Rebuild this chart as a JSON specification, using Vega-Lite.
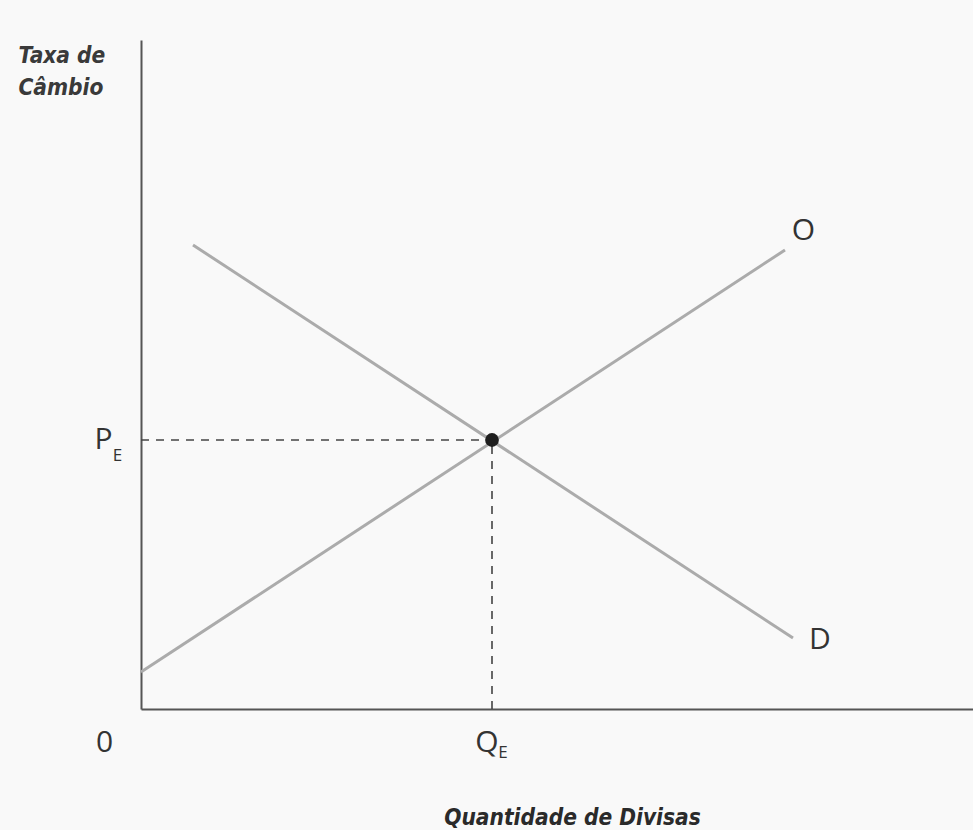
{
  "$schema": "https://vega.github.io/schema/vega-lite/v6.json",
  "width": 832,
  "height": 669,
  "autosize": {"type": "none"},
  "padding": {"left": 141, "top": 40, "right": 0, "bottom": 121},
  "background": "#f9f9f9",
  "config": {"view": {"stroke": null}},
  "layer": [
    {
      "data": {"values": [
        {"q": 0, "p": 37, "curva": "O"},
        {"q": 644, "p": 459, "curva": "O"},
        {"q": 52, "p": 464, "curva": "D"},
        {"q": 652, "p": 71, "curva": "D"}
      ]},
      "mark": {"type": "line", "color": "#ababab", "strokeWidth": 3},
      "encoding": {
        "x": {"field": "q", "type": "quantitative",
          "scale": {"domain": [0, 832], "nice": false, "zero": false},
          "axis": {"title": "Quantidade de Divisas", "grid": false, "ticks": false, "labels": false,
            "domainColor": "#555", "domainWidth": 2,
            "titleFont": "Liberation Sans Narrow, DejaVu Sans Condensed, sans-serif",
            "titleFontSize": 22.5, "titleFontStyle": "italic", "titleFontWeight": "bold",
            "titleColor": "#2a2a2a", "titleX": 431, "titleY": 108, "titleBaseline": "middle", "titleAnchor": "middle"}},
        "y": {"field": "p", "type": "quantitative",
          "scale": {"domain": [0, 669], "nice": false, "zero": false},
          "axis": {"title": ["Taxa de", "Câmbio"], "grid": false, "ticks": false, "labels": false,
            "domainColor": "#555", "domainWidth": 2,
            "titleFont": "Liberation Sans Narrow, DejaVu Sans Condensed, sans-serif",
            "titleFontSize": 22.5, "titleFontStyle": "italic", "titleFontWeight": "bold",
            "titleColor": "#3a3a3a", "titleAngle": 0, "titleAlign": "left", "titleBaseline": "middle",
            "titleX": -123, "titleY": 15, "titleLineHeight": 32}},
        "detail": {"field": "curva"}
      }
    },
    {
      "data": {"values": [
        {"q1": 0, "p1": 269, "q2": 351, "p2": 269},
        {"q1": 351, "p1": 0, "q2": 351, "p2": 269}
      ]},
      "mark": {"type": "rule", "color": "#444", "strokeWidth": 1.6, "strokeDash": [8, 7]},
      "encoding": {
        "x": {"field": "q1", "type": "quantitative"},
        "y": {"field": "p1", "type": "quantitative"},
        "x2": {"field": "q2"},
        "y2": {"field": "p2"}
      }
    },
    {
      "data": {"values": [{"q": 351, "p": 269}]},
      "mark": {"type": "circle", "color": "#1e1e1e", "opacity": 1, "size": 190},
      "encoding": {
        "x": {"field": "q", "type": "quantitative"},
        "y": {"field": "p", "type": "quantitative"}
      }
    },
    {
      "data": {"values": [
        {"texto": "P", "q": -37.5, "p": 269},
        {"texto": "0", "q": -36.5, "p": -33.5},
        {"texto": "Q", "q": 346, "p": -33.5},
        {"texto": "O", "q": 662.5, "p": 478.5},
        {"texto": "D", "q": 679, "p": 69}
      ]},
      "mark": {"type": "text", "font": "Open Sans", "fontWeight": "normal", "fontSize": 30, "color": "#333", "baseline": "middle", "align": "center"},
      "encoding": {
        "x": {"field": "q", "type": "quantitative"},
        "y": {"field": "p", "type": "quantitative"},
        "text": {"field": "texto"}
      }
    },
    {
      "data": {"values": [
        {"texto": "E", "q": -23.5, "p": 253},
        {"texto": "E", "q": 362, "p": -43.5}
      ]},
      "mark": {"type": "text", "font": "Open Sans", "fontWeight": "normal", "fontSize": 17, "color": "#333", "baseline": "middle", "align": "center"},
      "encoding": {
        "x": {"field": "q", "type": "quantitative"},
        "y": {"field": "p", "type": "quantitative"},
        "text": {"field": "texto"}
      }
    }
  ]
}
